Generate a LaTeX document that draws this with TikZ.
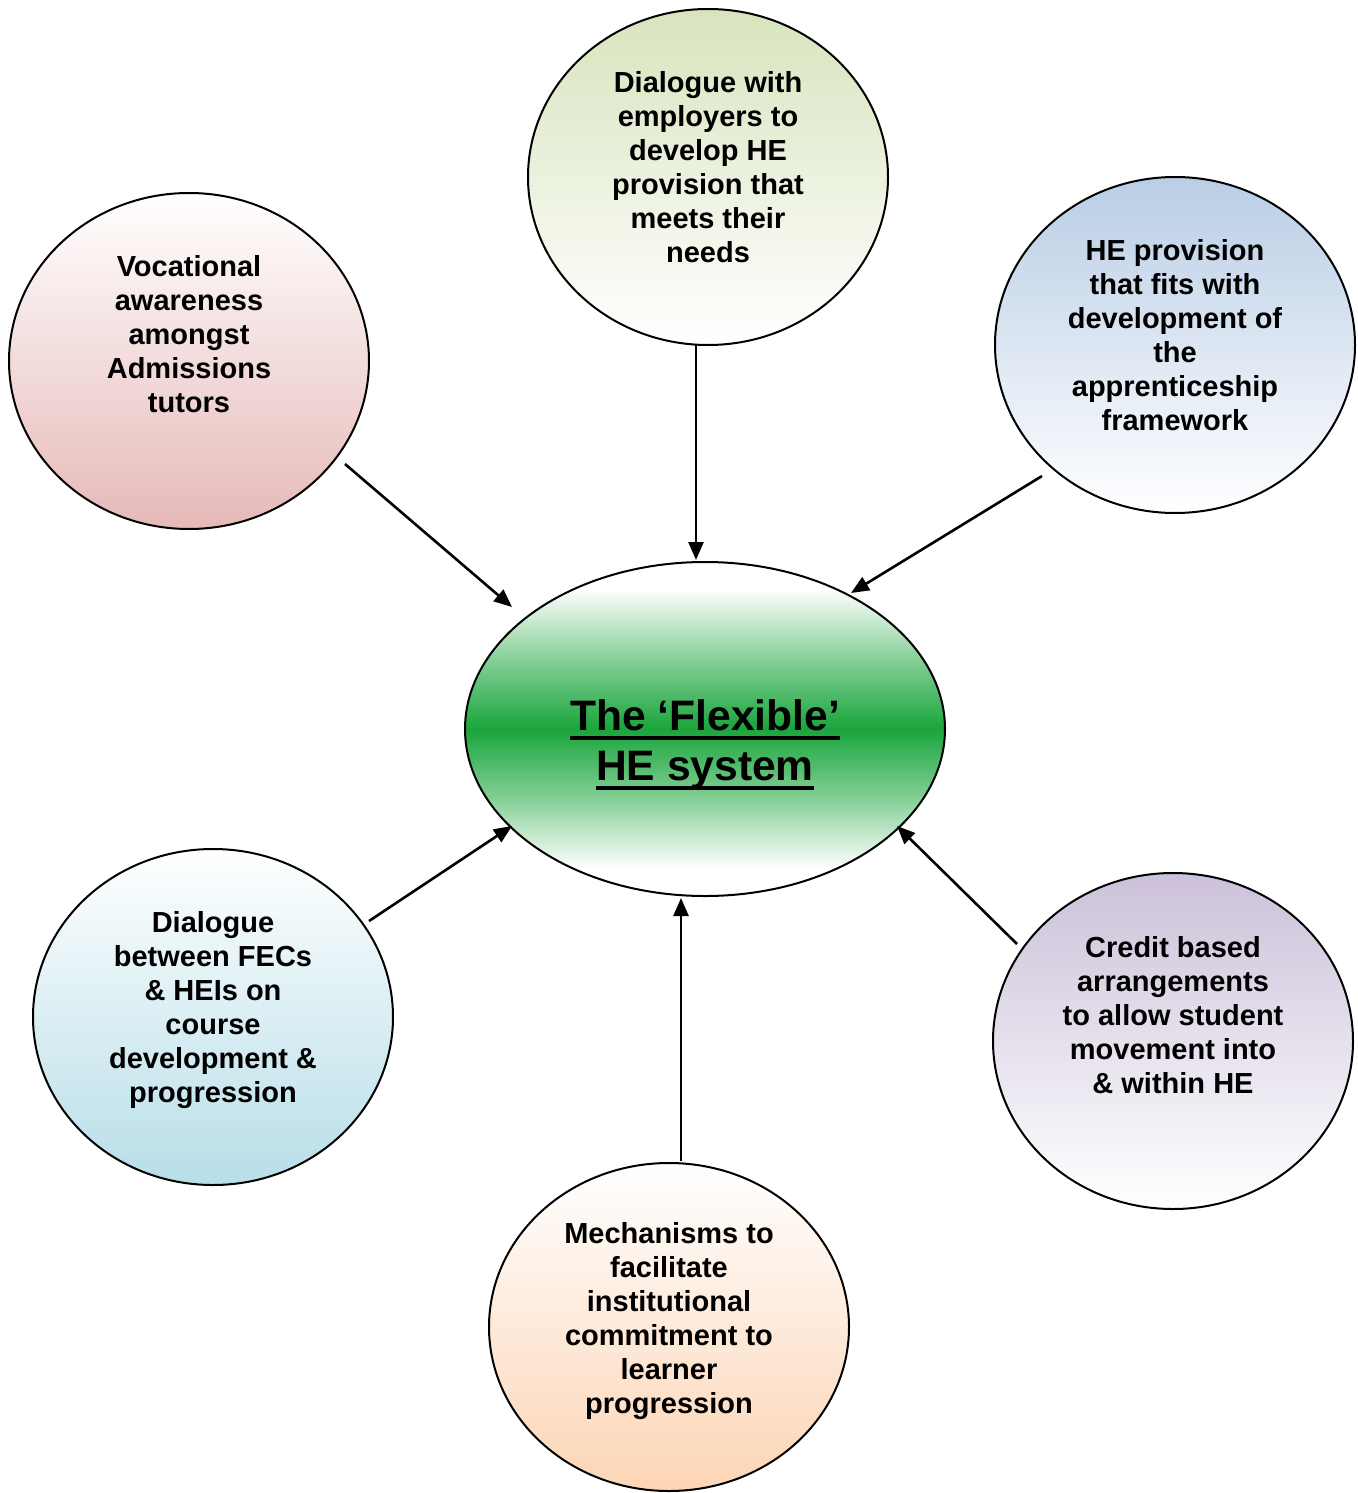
\documentclass[tikz,border=0pt]{standalone}
\usepackage{fontspec}
\setmainfont{Liberation Sans}
\usetikzlibrary{shapes.geometric,arrows.meta}
\definecolor{gTop}{HTML}{D7E4BD}
\definecolor{pBot}{HTML}{E6B9B8}
\definecolor{bTop}{HTML}{B9CDE5}
\definecolor{lbBot}{HTML}{B7DEE8}
\definecolor{vTop}{HTML}{CCC1DA}
\definecolor{oBot}{HTML}{FCD5B5}
\definecolor{hegreen}{HTML}{1AA53C}
\pgfdeclareverticalshading{hesys}{100bp}{color(0bp)=(white); color(29bp)=(white); color(40bp)=(hegreen!55!white); color(50bp)=(hegreen); color(60bp)=(hegreen!55!white); color(71bp)=(white); color(100bp)=(white)}
\newcommand\heul[1]{\setbox0\hbox{#1}\rlap{\raisebox{-4.5pt}{\rule{\wd0}{2pt}}}\box0}
\tikzset{
  bubble/.style={ellipse, draw=black, line width=1pt, inner sep=0pt,
    minimum width=180pt, minimum height=168pt},
  btext/.style={align=center, font=\bfseries\fontsize{14.5}{17}\selectfont, inner sep=0pt},
  arr/.style={line width=1.3pt, -{Triangle[length=9pt,width=7.5pt]}}
}
\begin{document}
\begin{tikzpicture}[x=0.5pt,y=-0.5pt]
\useasboundingbox (0,0) rectangle (1358,1493);
% bubbles
\node[bubble, top color=gTop, bottom color=white] (top) at (708,177) {};
\node[bubble, top color=white, bottom color=pBot] (pink) at (189,361) {};
\node[bubble, top color=bTop, bottom color=white] (blue) at (1175,345) {};
\node[bubble, top color=white, bottom color=lbBot] (lblue) at (213,1017) {};
\node[bubble, top color=vTop, bottom color=white] (violet) at (1173,1041) {};
\node[bubble, top color=white, bottom color=oBot, minimum height=164pt] (orange) at (669,1327) {};
\node[ellipse, draw=black, line width=1pt, inner sep=0pt, minimum width=240pt, minimum height=167pt, shading=hesys] (centre) at (705,729) {};
% texts
\node[btext] (ttop) at (708,167) {Dialogue with\\employers to\\develop HE\\provision that\\meets their\\needs};
\node[btext] (tpink) at (189,334) {Vocational\\awareness\\amongst\\Admissions\\tutors};
\node[btext] (tblue) at (1175,335) {HE provision\\that fits with\\development of\\the\\apprenticeship\\framework};
\node[btext] (tlblue) at (213,1010) {Dialogue\\between FECs\\\& HEIs on\\course\\development \&\\progression};
\node[btext] (tviolet) at (1173,1015) {Credit based\\arrangements\\to allow student\\movement into\\\& within HE};
\node[btext] (torange) at (669,1321) {Mechanisms to\\facilitate\\institutional\\commitment to\\learner\\progression};
\node[align=center, inner sep=0pt, font=\bfseries\fontsize{21.3}{25}\selectfont] (tcentre) at (705,745) {\heul{The ‘Flexible’}\\\heul{HE system}};
% connector ends
\coordinate (a1s) at (345,464); \coordinate (a1e) at (512,607);
\coordinate (a2s) at (696,345); \coordinate (a2e) at (696,560);
\coordinate (a3s) at (1042,476); \coordinate (a3e) at (851,593);
\coordinate (a4s) at (369,921); \coordinate (a4e) at (512,826);
\coordinate (a5s) at (681,1161); \coordinate (a5e) at (681,898);
\coordinate (a6s) at (1017,944); \coordinate (a6e) at (897,826);
\draw[arr] (a1s) -- (a1e);
\draw[arr] (a2s) -- (a2e);
\draw[arr] (a3s) -- (a3e);
\draw[arr] (a4s) -- (a4e);
\draw[arr] (a5s) -- (a5e);
\draw[arr] (a6s) -- (a6e);
\end{tikzpicture}
\end{document}
